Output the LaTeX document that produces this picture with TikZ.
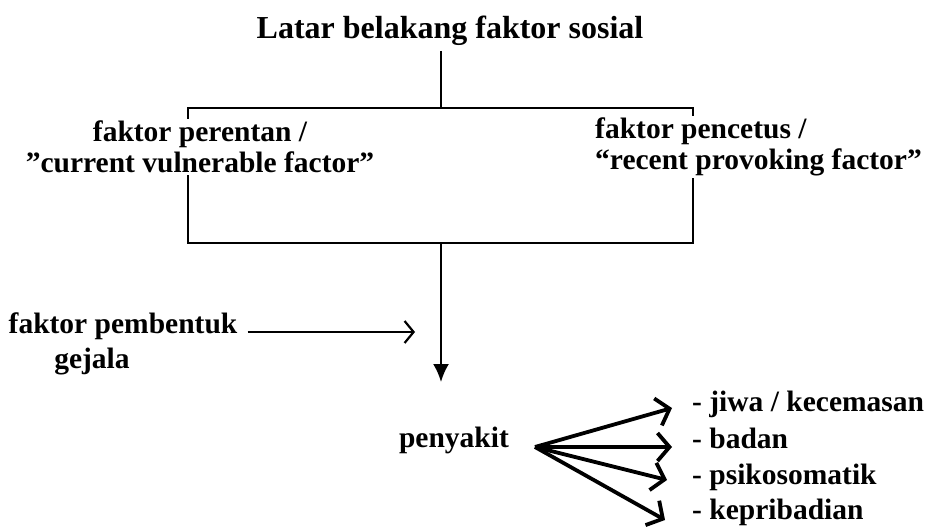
\documentclass[tikz,border=0pt]{standalone}
\usepackage{fontspec}
\setmainfont{Liberation Serif}
\usetikzlibrary{arrows.meta}

\tikzset{
  lbl/.style={font=\bfseries\fontsize{29.5}{31}\selectfont, inner sep=2pt},
  boxlbl/.style={lbl, fill=white},
  item/.style={lbl, anchor=base west, text height=20pt, text depth=6pt},
  frame/.style={line width=2.2pt},
  thinarrow/.style={line width=2.2pt, -{Straight Barb[length=9pt,width=22pt]}},
  fanarrow/.style={line width=3.8pt, -{Straight Barb[length=12pt,width=28pt]}},
  downarrow/.style={line width=2.2pt, -{Latex[length=18pt,width=16pt]}}
}

\begin{document}
\begin{tikzpicture}[x=1pt,y=-1pt]
    \useasboundingbox (0,0) rectangle (935,527);

    % top
    \node[lbl, font=\bfseries\fontsize{32}{34}\selectfont] (title) at (450,31) {Latar belakang faktor sosial};
    \coordinate (boxtop) at (441,108);
    \coordinate (boxbot) at (441,243);
    \draw[frame] (boxtop |- 0,51) -- (boxtop);

    % box
    \coordinate (boxnw) at (188,108);
    \coordinate (boxse) at (693,243);
    \draw[frame] (boxnw) rectangle (boxse);
    \node[boxlbl, align=center] (perentan) at (200,147) {faktor perentan /\\”current vulnerable factor”};
    \node[boxlbl, align=left, anchor=west] (pencetus) at (593,147) {faktor pencetus /\\“recent provoking factor”};

    % middle
    \coordinate (sicktip) at (441,382);
    \coordinate (join) at (415,332);
    \draw[downarrow] (boxbot) -- (sicktip);
    \node[lbl] (pembentuk) at (123,326) {faktor pembentuk};
    \node[lbl] (gejala) at (92,362) {gejala};
    \draw[thinarrow, shorten <=8pt] (pembentuk.east |- join) -- (join);

    % penyakit
    \node[lbl] (sick) at (454,440) {penyakit};
    \coordinate (fan) at (535,447);
    \node[item] (jiwa) at (690,411) {- jiwa / kecemasan};
    \node[item] (badan) at (690,448) {- badan};
    \node[item] (psiko) at (690,484) {- psikosomatik};
    \node[item] (kepri) at (690,519) {- kepribadian};
    \draw[fanarrow] (fan) -- ([xshift=-18pt,yshift=-4pt]jiwa.west);
    \draw[fanarrow] (fan) -- ([xshift=-18pt,yshift=-6pt]badan.west);
    \draw[fanarrow] (fan) -- ([xshift=-23pt,yshift=-3pt]psiko.west);
    \draw[fanarrow] (fan) -- ([xshift=-25pt,yshift=-8pt]kepri.west);
\end{tikzpicture}
\end{document}
